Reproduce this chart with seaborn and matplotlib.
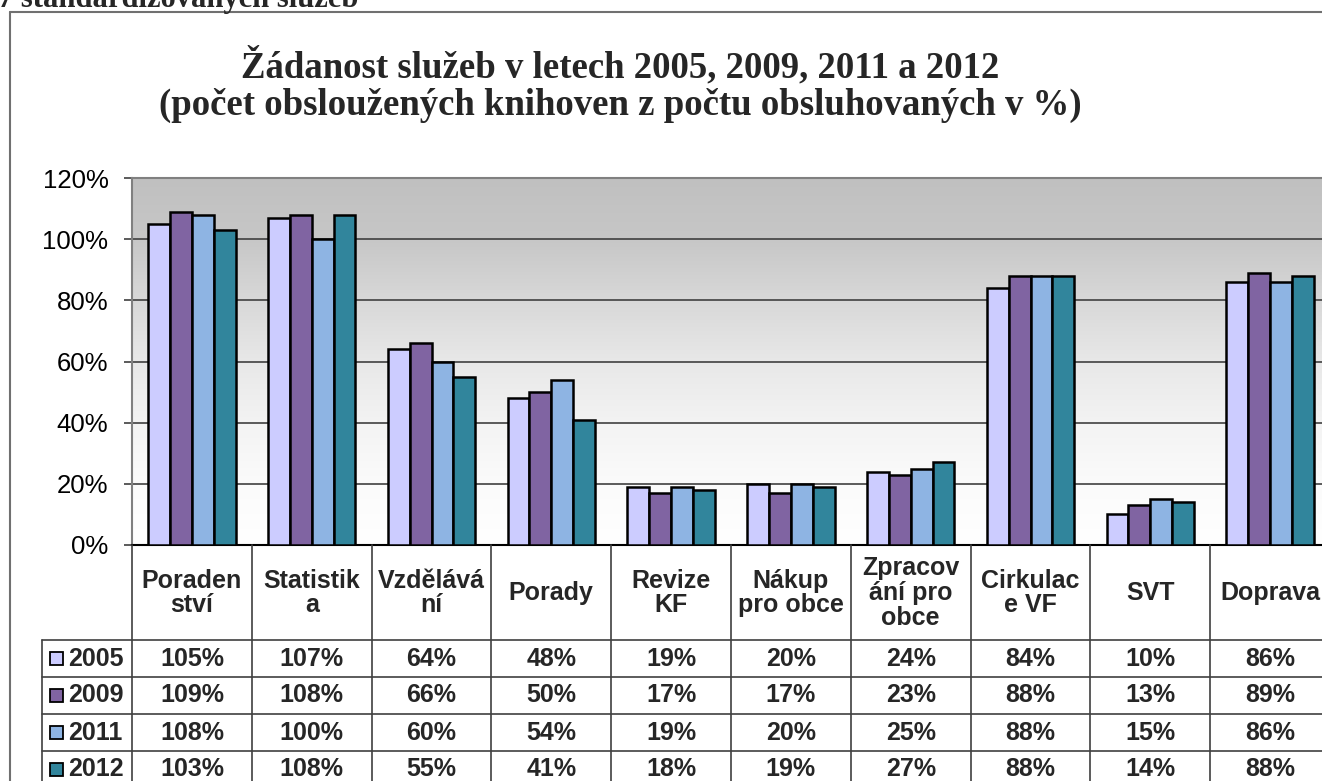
import numpy as np
import pandas as pd
import matplotlib
matplotlib.use("Agg")
import matplotlib.pyplot as plt
import matplotlib.transforms as mtransforms
from matplotlib.lines import Line2D
from matplotlib.patches import Rectangle
import seaborn as sns

categories = ["Poradenství", "Statistika", "Vzdělávání", "Porady", "Revize KF",
              "Nákup pro obce", "Zpracování pro obce", "Cirkulace VF", "SVT", "Doprava"]
header_labels = ["Poraden\nství", "Statistik\na", "Vzdělává\nní", "Porady", "Revize\nKF",
                 "Nákup\npro obce", "Zpracov\nání pro\nobce", "Cirkulac\ne VF", "SVT", "Doprava"]
years = ["2005", "2009", "2011", "2012"]
v2005 = [105, 107, 64, 48, 19, 20, 24, 84, 10, 86]
v2009 = [109, 108, 66, 50, 17, 17, 23, 88, 13, 89]
v2011 = [108, 100, 60, 54, 19, 20, 25, 88, 15, 86]
v2012 = [103, 108, 55, 41, 18, 19, 27, 88, 14, 88]
colors = ["#CCCCFF", "#8064A2", "#8EB4E3", "#31859C"]

series = [v2005, v2009, v2011, v2012]
df = pd.DataFrame({
    "sluzba": categories * len(years),
    "rok": [y for y in years for _ in categories],
    "hodnota": [v for s in series for v in s],
})

sns.set_theme(style="white")
plt.rcParams["font.family"] = ["Liberation Sans", "DejaVu Sans"]

W, H = 1322, 781
fig = plt.figure(figsize=(W / 100, H / 100), dpi=100)
fig.patch.set_facecolor("white")

def fy(py):
    return 1 - py / H

def fx(px):
    return px / W

# plot area
ax = fig.add_axes([fx(132), fy(545), 1198 / W, 367 / H])

# gradient background of the plot area (grey at top, white at bottom)
stops_v = [0, 20, 40, 60, 80, 100, 120]
stops_g = [255, 251, 243, 232, 216, 199, 192]
yy = np.linspace(120, 0, 300)
g = np.interp(yy, stops_v, stops_g) / 255.0
grad = np.stack([g, g, g], axis=-1).reshape(300, 1, 3)
ax.imshow(grad, extent=(-0.5, 9.5, 0, 120), aspect="auto", zorder=0, interpolation="bilinear")

sns.barplot(data=df, x="sluzba", y="hodnota", hue="rok", order=categories,
            hue_order=years, palette=colors, width=0.73, saturation=1,
            edgecolor="black", linewidth=1.8, legend=False, ax=ax, zorder=3)

ax.set_xlim(-0.5, 9.5)
ax.set_ylim(0, 120)
ax.set_yticks(range(0, 121, 20))
ax.set_yticklabels([f"{t}%" for t in range(0, 121, 20)], fontsize=18.5)
ax.set_xticks([])
ax.set_xlabel("")
ax.set_ylabel("")
ax.set_axisbelow(True)
ax.yaxis.grid(True, color="#404040", linewidth=1.2)
ax.tick_params(axis="y", which="major", left=True, length=6, width=1.2,
               color="#404040", pad=11, labelcolor="black")
for side in ["left", "top"]:
    ax.spines[side].set_color("#808080")
    ax.spines[side].set_linewidth(1.5)
ax.spines["bottom"].set_color("black")
ax.spines["bottom"].set_linewidth(1.5)
ax.spines["right"].set_visible(False)

# data table under the chart
tr = mtransforms.blended_transform_factory(ax.transData, fig.transFigure)
line_c = "#404040"
for k in range(len(categories) + 1):
    fig.add_artist(Line2D([k - 0.5, k - 0.5], [fy(545), fy(H + 2)], transform=tr,
                          color=line_c, linewidth=1.2))
for py in [640, 677, 714, 751]:
    fig.add_artist(Line2D([fx(42), 1.01], [fy(py), fy(py)], transform=fig.transFigure,
                          color=line_c, linewidth=1.2))
fig.add_artist(Line2D([fx(42), fx(42)], [fy(640), fy(H + 2)], transform=fig.transFigure,
                      color=line_c, linewidth=1.2))

for i, lab in enumerate(header_labels):
    fig.text(i, fy(593), lab, transform=tr, ha="center", va="center",
             fontsize=18, fontweight="bold", linespacing=1.05)

row_centers = [658.5, 695.5, 732.5, 769.5]
for r, (yr, vals, col) in enumerate(zip(years, series, colors)):
    cy = row_centers[r]
    fig.add_artist(Rectangle((fx(50), fy(cy + 6)), 13 / W, 13 / H, transform=fig.transFigure,
                             facecolor=col, edgecolor="black", linewidth=1.3))
    fig.text(fx(68), fy(cy), yr, ha="left", va="center", fontsize=18, fontweight="bold")
    for i, v in enumerate(vals):
        fig.text(i, fy(cy), f"{v}%", transform=tr, ha="center", va="center",
                 fontsize=18, fontweight="bold")

# chart frame and titles
fig.add_artist(Line2D([fx(10), fx(10)], [fy(12), 0], transform=fig.transFigure,
                      color="#707070", linewidth=1.5))
fig.add_artist(Line2D([fx(10), 1.0], [fy(12), fy(12)], transform=fig.transFigure,
                      color="#707070", linewidth=1.5))

fig.text(fx(620), fy(85),
         "Žádanost služeb v letech 2005, 2009, 2011 a 2012\n"
         "(počet obsloužených knihoven z počtu obsluhovaných v %)",
         ha="center", va="center", fontsize=26.5, fontweight="bold",
         family=["Liberation Serif", "DejaVu Serif"], linespacing=1.1)
fig.text(fx(-2), fy(7), "7 standardizovaných služeb", ha="left", va="baseline",
         fontsize=22, fontweight="bold", family=["Liberation Serif", "DejaVu Serif"])

fig.savefig("out.png", dpi=100)
